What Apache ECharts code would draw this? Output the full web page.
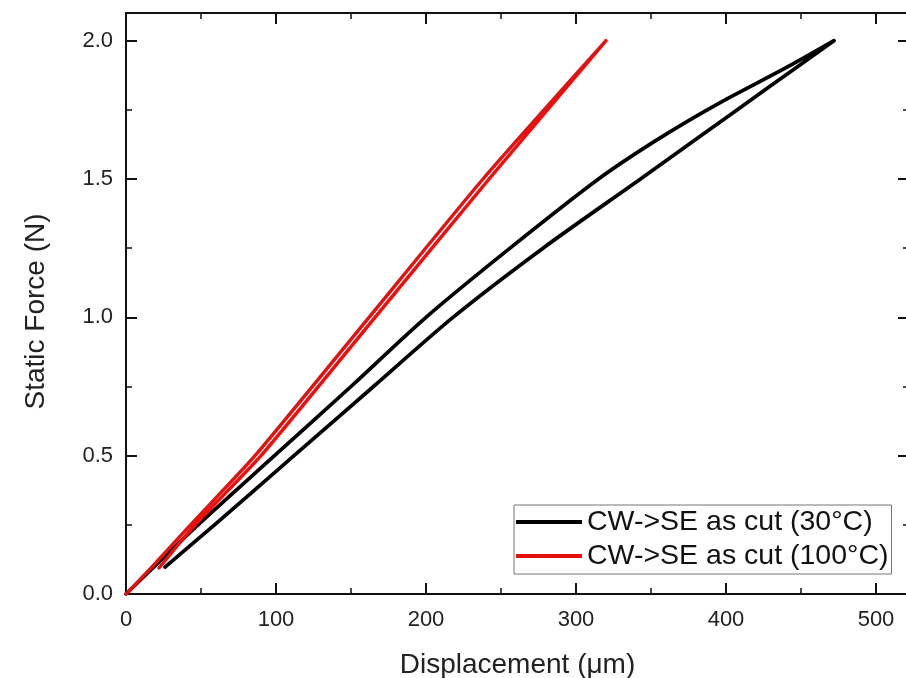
<!DOCTYPE html>
<html>
<head>
<meta charset="utf-8">
<script src="https://cdn.jsdelivr.net/npm/echarts@6/dist/echarts.min.js"></script>
<style>
  html, body { margin: 0; padding: 0; background: #fff; }
  #chart { width: 906px; height: 678px; }
</style>
</head>
<body>
<div id="chart"></div>
<script>
// loop: up along the left branch, back down the right one
const cut30 = [
  [0, 0], [19, 0.1], [48, 0.25], [99, 0.5], [150, 0.75], [200, 1.0], [256, 1.25],
  [315, 1.5], [355, 1.645], [394, 1.77], [441, 1.905], [472, 2.0],
  [427, 1.826], [383, 1.655], [343, 1.5], [278, 1.25],
  [218, 1.0], [165, 0.75], [112, 0.5], [59, 0.25], [26, 0.097]
];
const cut100 = [
  [0, 0], [17.6, 0.1], [43, 0.25], [86, 0.5], [162, 1.0], [238, 1.5], [320, 2.0],
  [242, 1.5], [166, 1.0], [90, 0.5], [46, 0.25], [22, 0.094]
];
const seriesNames = ["CW->SE as cut (30°C)", "CW->SE as cut (100°C)"];
const xTicks = { min: 0, max: 522, step: 100 };
const yTicks = { min: 0, max: 2.1, step: 0.5 };

const font = "'Liberation Sans', Arial, sans-serif";
const ink = "#111";

function axisBase(t, showLabel, fmt, margin) {
  return {
    type: "value",
    min: t.min,
    max: t.max,
    interval: t.step,
    splitLine: { show: false },
    axisLine: { show: true, onZero: false, lineStyle: { color: ink, width: 2 } },
    axisTick: { show: true, inside: true, length: 11, lineStyle: { color: ink, width: 2 } },
    minorTick: { show: true, splitNumber: 2, length: 6, lineStyle: { color: ink, width: 1.5 } },
    axisLabel: {
      show: showLabel,
      fontFamily: font,
      fontSize: 22,
      color: "#222",
      margin: margin,
      showMaxLabel: false,
      formatter: fmt
    }
  };
}

const fmtX = v => (Math.abs(v % 100) < 1e-6 ? String(v) : "");
const fmtY = v => (Math.abs(v * 2 - Math.round(v * 2)) < 1e-6 ? v.toFixed(1) : "");

const chart = echarts.init(document.getElementById("chart"));
chart.setOption({
  backgroundColor: "#fff",
  animation: false,
  grid: { left: 126, top: 13, right: -3, bottom: 84, containLabel: false, outerBoundsMode: "none" },
  legend: {
    orient: "vertical",
    left: 514,
    top: 505,
    padding: [2, 3, 3, 2],
    itemGap: 4,
    itemWidth: 66,
    itemHeight: 4,
    icon: "rect",
    borderColor: "#777",
    borderWidth: 1,
    textStyle: { fontFamily: font, fontSize: 28.5, color: "#111", lineHeight: 30 },
    data: seriesNames
  },
  xAxis: [
    Object.assign(axisBase(xTicks, true, fmtX, 15), {
      position: "bottom",
      name: "Displacement (μm)",
      nameLocation: "middle",
      nameGap: 57,
      nameTextStyle: { fontFamily: font, fontSize: 28, color: "#222" }
    }),
    Object.assign(axisBase(xTicks, false, fmtX, 15), { position: "top" })
  ],
  yAxis: [
    Object.assign(axisBase(yTicks, true, fmtY, 13), {
      position: "left",
      name: "Static Force (N)",
      nameLocation: "middle",
      nameGap: 76,
      nameTextStyle: { fontFamily: font, fontSize: 28, color: "#222", padding: [0, 16, 0, 0] }
    }),
    Object.assign(axisBase(yTicks, false, fmtY, 13), { position: "right" })
  ],
  series: [
    {
      name: seriesNames[0],
      type: "line",
      data: cut30,
      showSymbol: false,
      smooth: 0.3,
      color: "#000",
      lineStyle: { width: 3.7, join: "round", cap: "round" }
    },
    {
      name: seriesNames[1],
      type: "line",
      data: cut100,
      showSymbol: false,
      smooth: 0.2,
      color: "#e8100f",
      lineStyle: { width: 3.4, join: "round", cap: "round" }
    }
  ]
});
</script>
</body>
</html>
